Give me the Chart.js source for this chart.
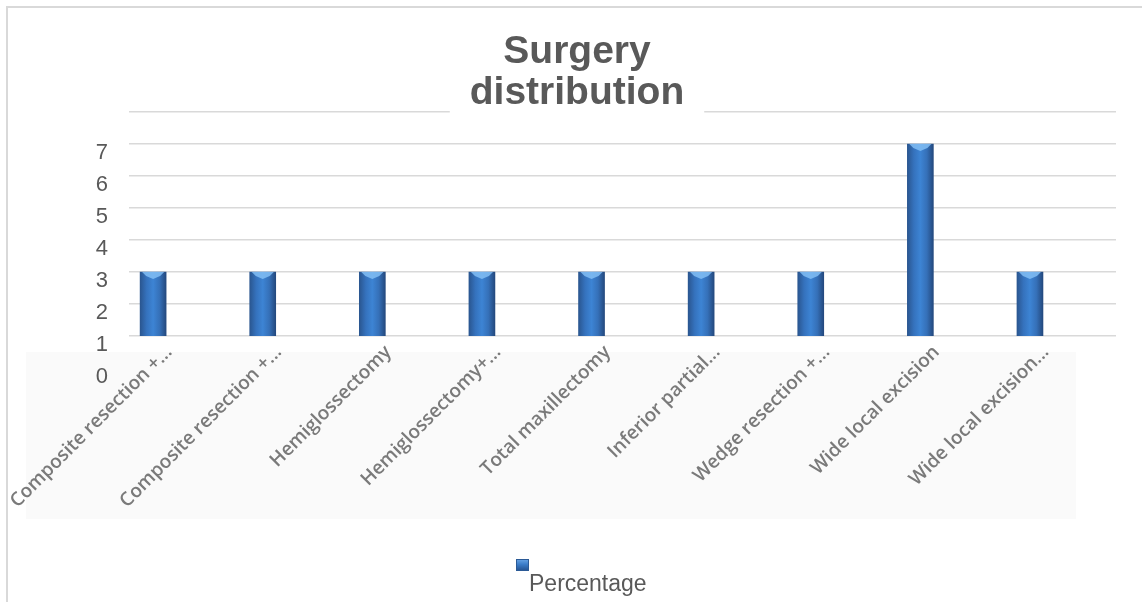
<!DOCTYPE html>
<html>
<head>
<meta charset="utf-8">
<title>Surgery distribution</title>
<script src="https://cdn.jsdelivr.net/npm/chart.js@4.4.1/dist/chart.umd.min.js"></script>
<style>
    html, body { margin: 0; padding: 0; background: #ffffff; }
    body { width: 1142px; height: 602px; position: relative; overflow: hidden; font-family: "Liberation Sans", Arial, sans-serif; }
    #frame { position: absolute; left: 6px; top: 6px; width: 1136px; height: 596px; border-left: 2px solid #d9d9d9; border-top: 2px solid #d9d9d9; box-sizing: border-box; }
    #chartBox { position: absolute; left: 0; top: 0; width: 1142px; height: 602px; }
    #legend { position: absolute; left: 516px; top: 559px; color: #595959; font-size: 23px; }
    #legend .swatch { width: 13px; height: 12px; background: linear-gradient(to bottom, #6aa6e6 0%, #3b7cc8 45%, #234f8c 100%); box-shadow: inset 0 0 0 1px #2b5a96; }
    #legend .text { margin-left: 13px; margin-top: -1px; line-height: 26px; }
</style>
</head>
<body>
<div id="frame"></div>
<div id="chartBox"><canvas id="surgeryChart" width="1142" height="602"></canvas></div>
<div id="legend"><div class="swatch"></div><div class="text">Percentage</div></div>

<script>
// chart data
var chartTitle = ['Surgery', 'distribution'];
var seriesName = 'Percentage';
var categories = [
    'Composite resection +...',
    'Composite resection +...',
    'Hemiglossectomy',
    'Hemiglossectomy+...',
    'Total maxillectomy',
    'Inferior partial...',
    'Wedge resection +...',
    'Wide local excision',
    'Wide local excision...'
];
var percentage = [3, 3, 3, 3, 3, 3, 3, 7, 3];
var yTickLabels = [0, 1, 2, 3, 4, 5, 6, 7];

// light box behind the category labels
var labelBackground = {
    id: 'labelBackground',
    beforeDraw: function(chart) {
        var c = chart.ctx;
        c.save();
        c.fillStyle = '#fafafa';
        c.fillRect(26, 352, 1050, 167);
        c.restore();
    }
};

// lighter cap on top of each bar
var barCaps = {
    id: 'barCaps',
    afterDatasetsDraw: function(chart) {
        var c = chart.ctx;
        var meta = chart.getDatasetMeta(0);
        c.save();
        meta.data.forEach(function(bar) {
            var half = bar.width / 2;
            c.beginPath();
            c.moveTo(bar.x - half + 2, bar.y);
            c.lineTo(bar.x + half - 2, bar.y);
            c.lineTo(bar.x + half - 6, bar.y + 4);
            c.lineTo(bar.x, bar.y + 7);
            c.lineTo(bar.x - half + 6, bar.y + 4);
            c.closePath();
            c.fillStyle = 'rgba(130, 190, 245, 0.85)';
            c.fill();
        });
        c.restore();
    }
};

// title drawn over the top grid line with a white backing
var titleBlock = {
    id: 'titleBlock',
    afterDraw: function(chart) {
        var c = chart.ctx;
        var cx = 577;
        c.save();
        c.font = 'bold 39px "Liberation Sans", Arial, sans-serif';
        c.textAlign = 'center';
        c.textBaseline = 'alphabetic';
        var w = c.measureText(chartTitle[1]).width;
        c.fillStyle = '#ffffff';
        c.fillRect(cx - w / 2 - 20, 76, w + 40, 42);
        c.fillStyle = '#595959';
        c.fillText(chartTitle[0], cx, 63);
        c.fillText(chartTitle[1], cx, 104);
        c.restore();
    }
};

var ctx = document.getElementById('surgeryChart').getContext('2d');
var surgeryChart = new Chart(ctx, {
    type: 'bar',
    data: {
        datasets: [{
            label: seriesName,
            data: percentage.map(function(v, i) { return { x: i, y: v }; }),
            barThickness: 26,
            borderWidth: 0,
            backgroundColor: function(context) {
                var chart = context.chart;
                if (!chart.chartArea || !chart.scales.x) {
                    return '#3a7bc8';
                }
                var x = chart.scales.x.getPixelForValue(context.dataIndex);
                var g = chart.ctx.createLinearGradient(x - 13, 0, x + 13, 0);
                g.addColorStop(0, '#2a5690');
                g.addColorStop(0.25, '#3572bd');
                g.addColorStop(0.5, '#3d84d4');
                g.addColorStop(0.75, '#3570b8');
                g.addColorStop(1, '#24497e');
                return g;
            }
        }]
    },
    options: {
        responsive: false,
        animation: false,
        layout: {
            padding: { left: 0, right: 26, top: 112, bottom: 0 }
        },
        plugins: {
            legend: { display: false },
            title: { display: false, text: chartTitle },
            tooltip: { enabled: false }
        },
        scales: {
            x: {
                type: 'linear',
                min: -0.22,
                max: 8.785,
                offset: false,
                grid: { display: false, offset: false },
                border: { display: false },
                afterFit: function(scale) {
                    scale.height = 266;
                    scale.paddingLeft = 0;
                    scale.paddingRight = 0;
                },
                afterBuildTicks: function(scale) {
                    scale.ticks = categories.map(function(c, i) { return { value: i }; });
                },
                ticks: {
                    autoSkip: false,
                    minRotation: 45,
                    maxRotation: 45,
                    padding: -3,
                    labelOffset: 16,
                    color: '#7a7a7a',
                    font: { family: '"Open Sans", sans-serif', size: 19, weight: '600' },
                    callback: function(value) { return categories[value]; }
                }
            },
            y: {
                min: 1,
                max: 8,
                beginAtZero: false,
                grid: {
                    drawTicks: false,
                    lineWidth: 1.5,
                    color: function(context) {
                        return context.tick && context.tick.value === 0 ? 'rgba(0,0,0,0)' : '#d9d9d9';
                    }
                },
                border: { display: false },
                afterFit: function(scale) { scale.width = 129; },
                afterBuildTicks: function(scale) {
                    scale.ticks = yTickLabels.concat([8]).map(function(v) { return { value: v }; });
                },
                ticks: {
                    autoSkip: false,
                    stepSize: 1,
                    padding: 21,
                    labelOffset: 9,
                    color: '#595959',
                    font: { family: '"Liberation Sans", Arial, sans-serif', size: 22 },
                    callback: function(value) {
                        return yTickLabels.indexOf(value) >= 0 ? String(value) : '';
                    }
                }
            }
        }
    },
    plugins: [labelBackground, barCaps, titleBlock]
});
</script>
</body>
</html>
